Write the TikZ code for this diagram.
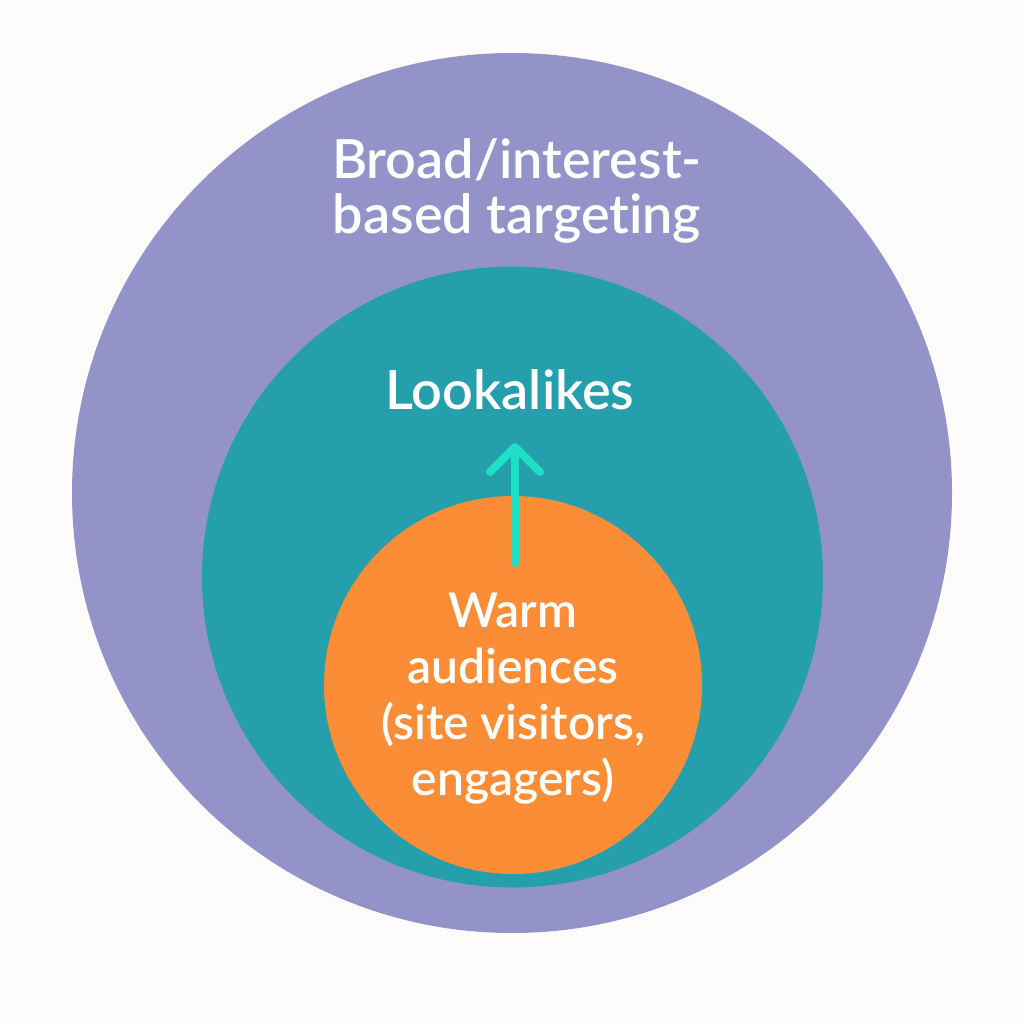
\documentclass[tikz,border=0pt]{standalone}
\usepackage{fontspec}
\setmainfont{Lato Semibold}[Ligatures=NoCommon]
\usetikzlibrary{arrows.meta}
\definecolor{bgc}{HTML}{FDFCFA}
\definecolor{purp}{HTML}{9393C9}
\definecolor{tealc}{HTML}{259FAB}
\definecolor{orng}{HTML}{FA8D36}
\definecolor{arrc}{HTML}{1EE0C4}
\tikzset{
  lbl/.style={text=white, align=center, font=\fontsize{48}{56}\selectfont},
  ring/.style={circle, inner sep=0pt, draw=none},
}
\begin{document}
\begin{tikzpicture}[x=1pt,y=-1pt]
\fill[bgc] (0,0) rectangle (1024,1024);
\useasboundingbox (0,0) rectangle (1024,1024);
\node[ring, fill=purp, minimum size=880] (outer) at (512,493) {};
\node[ring, fill=tealc, minimum size=621] (mid) at (512.5,577) {};
\node[ring, fill=orng, minimum size=378] (inner) at (513,685) {};
\node[lbl, font=\fontsize{54}{55}\selectfont] (broad) at (517,191) {Broad/interest-\\based targeting};
\node[lbl, font=\fontsize{54}{56}\selectfont] (look) at (510,390) {Lookalikes};
\node[lbl] (warm) at (513,699) {Warm\\audiences\\(site visitors,\\engagers)};
\coordinate (arrs) at (515,563);
\coordinate (arre) at (515,443);
\draw[arrc, line width=8, line cap=round, -{Straight Barb[length=25,width=50,line width=8, round]}] (arrs) -- (arre);
\end{tikzpicture}
\end{document}
